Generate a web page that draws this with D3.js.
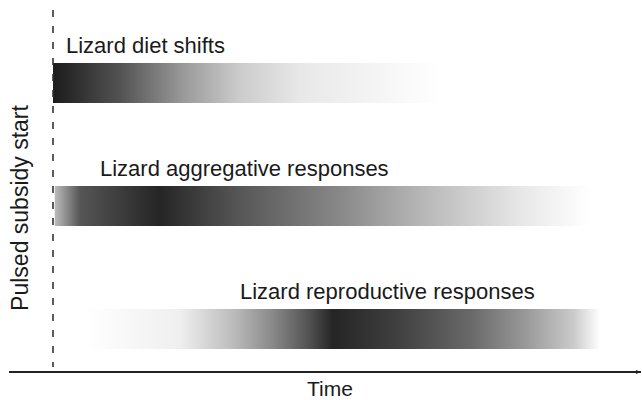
<!DOCTYPE html>
<html>
<head>
<meta charset="utf-8">
<style>
  body { margin: 0; background: #fff; }
  text { font-family: "Liberation Sans", Arial, sans-serif; fill: #1a1a1a; }
</style>
<script src="https://cdn.jsdelivr.net/npm/d3@7"></script>
</head>
<body>
<svg width="642" height="400"></svg>
<script>

// response names, top to bottom
var responses = ["Lizard diet shifts", "Lizard aggregative responses", "Lizard reproductive responses"];

// response intensity (0 = none, 1 = strongest) along time since the pulse
var dietTime  = [0, 11.5, 22.4, 32, 42.6, 66.7];
var dietLevel = [1.0, 0.76, 0.45, 0.23, 0.10, 0];

var aggTime  = [0.3, 4.7, 18.3, 31.7, 49, 65, 81, 92.6];
var aggLevel = [0.30, 0.75, 0.96, 0.75, 0.53, 0.30, 0.10, 0];

var reproTime  = [5.5, 21.9, 31.2, 38.1, 43.8, 48.3, 59.5, 72, 81.6, 89.8, 94.3];
var reproLevel = [0, 0.07, 0.30, 0.53, 0.75, 0.96, 0.84, 0.66, 0.45, 0.23, 0];

var xLabel = "Time",
    yLabel = "Pulsed subsidy start";

var rows = [
  { name: responses[0], t: dietTime,  v: dietLevel },
  { name: responses[1], t: aggTime,   v: aggLevel },
  { name: responses[2], t: reproTime, v: reproLevel }
];

var svg = d3.select("svg"),
    width = +svg.attr("width"),
    height = +svg.attr("height");

var x = d3.scaleLinear().domain([0, 100]).range([53, 633]);
var y = d3.scalePoint().domain(responses).range([83, 329]);
var shade = d3.scaleLinear().domain([0, 1]).range(["#ffffff", "#1c1c1c"]);
var barH = 40;
// label placement (pixels from left)
var labelX = [66, 100, 240];

var defs = svg.append("defs");

var grad = defs.selectAll("linearGradient")
  .data(rows)
  .enter().append("linearGradient")
    .attr("id", function(d, i) { return "g" + i; })
    .attr("gradientUnits", "userSpaceOnUse")
    .attr("x1", function(d) { return x(d.t[0]); })
    .attr("x2", function(d) { return x(d.t[d.t.length - 1]); })
    .attr("y1", 0).attr("y2", 0);

grad.selectAll("stop")
  .data(function(d) {
    var t0 = d.t[0], t1 = d.t[d.t.length - 1];
    return d.t.map(function(t, j) { return { o: (t - t0) / (t1 - t0), v: d.v[j] }; });
  })
  .enter().append("stop")
    .attr("offset", function(d) { return d.o; })
    .attr("stop-color", function(d) { return shade(d.v); });

svg.selectAll("rect.bar")
  .data(rows)
  .enter().append("rect")
    .attr("class", "bar")
    .attr("x", function(d) { return x(d.t[0]); })
    .attr("width", function(d) { return x(d.t[d.t.length - 1]) - x(d.t[0]); })
    .attr("y", function(d) { return y(d.name) - barH / 2; })
    .attr("height", barH)
    .attr("fill", function(d, i) { return "url(#g" + i + ")"; });

svg.selectAll("text.lab")
  .data(rows)
  .enter().append("text")
    .attr("class", "lab")
    .attr("x", function(d, i) { return labelX[i]; })
    .attr("y", function(d) { return y(d.name) - 30; })
    .style("font-size", "22px")
    .text(function(d) { return d.name; });

// pulse start marker
svg.append("line")
    .attr("x1", x(0)).attr("x2", x(0))
    .attr("y1", 10).attr("y2", 367)
    .attr("stroke", "#333")
    .attr("stroke-width", 1.6)
    .attr("stroke-dasharray", "7,9");

// time axis with arrow
defs.append("marker")
    .attr("id", "arrow")
    .attr("viewBox", "0 0 10 10")
    .attr("refX", 10).attr("refY", 5)
    .attr("markerWidth", 5).attr("markerHeight", 5)
    .attr("orient", "auto")
    .attr("markerUnits", "userSpaceOnUse")
  .append("path")
    .attr("d", "M0,1L10,5L0,9Z")
    .attr("fill", "#222");

svg.append("line")
    .attr("x1", 9).attr("x2", 641)
    .attr("y1", 372).attr("y2", 372)
    .attr("stroke", "#222")
    .attr("stroke-width", 1.8)
    .attr("marker-end", "url(#arrow)");

svg.append("text")
    .attr("x", 330).attr("y", 396)
    .attr("text-anchor", "middle")
    .style("font-size", "21px")
    .text(xLabel);

svg.append("text")
    .attr("transform", "translate(28,208) rotate(-90)")
    .attr("text-anchor", "middle")
    .style("font-size", "23px")
    .text(yLabel);

</script>
</body>
</html>
